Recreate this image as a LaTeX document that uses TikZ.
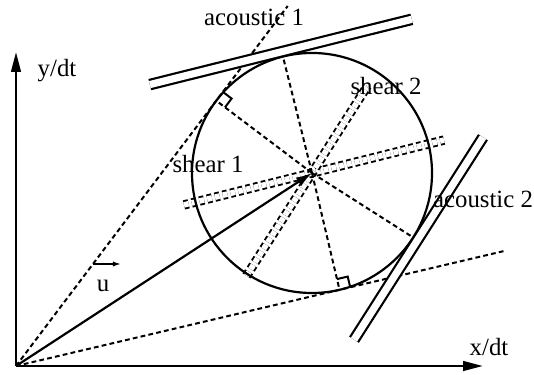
\documentclass[tikz,border=0pt]{standalone}
\usepackage{fontspec}
\setmainfont{Liberation Serif}
\usepackage{tikz}
\usetikzlibrary{arrows.meta,calc}
\tikzset{
  axis/.style={line width=1.3pt, -{Triangle[length=10pt,width=4.8pt]}},
  hint/.style={line width=1pt, dash pattern=on 2.4pt off 1.6pt},
  wave/.style={line width=1.1pt, double, double distance=3.6pt},
  shearwave/.style={line width=0.95pt, dash pattern=on 2.4pt off 1.6pt, double, double distance=2.8pt},
  rightmark/.style={line width=1pt},
  speed/.style={line width=1.1pt, -{Latex[length=8pt,width=5pt]}},
  lbl/.style={font=\fontsize{12.4}{14}\selectfont, inner sep=0pt}
}

\begin{document}
\begin{tikzpicture}[x=0.5pt, y=0.5pt]
  \useasboundingbox (0,0) rectangle (534,374);
  \coordinate (O) at (16,8);
  \coordinate (C) at (312,201);
  % shear lines through the centre
  \coordinate (s1a) at ($(C)+(194:132)$);
  \coordinate (s1b) at ($(C)+(14:136)$);
  \coordinate (s2a) at ($(C)+(237.5:122)$);
  \coordinate (s2b) at ($(C)+(57.5:103)$);
  \draw[shearwave] (s1a) -- (s1b);
  \draw[shearwave] (s2a) -- (s2b);
  \node[draw, circle, line width=1.1pt, minimum size=120pt, inner sep=0pt, outer sep=0pt] (wheel) at (C) {};
  % tangents from the origin
  \coordinate (t1) at (tangent cs:node=wheel,point={(O)},solution=2);
  \coordinate (t2) at (tangent cs:node=wheel,point={(O)},solution=1);
  \coordinate (e1) at ($(O)!1.357!(t1)$);
  \coordinate (e2) at ($(O)!1.516!(t2)$);
  \draw[hint] (O) -- (e1);
  \draw[hint] (O) -- (e2);
  \coordinate (a1) at ($(C)+(104:120)$);
  \coordinate (a2) at ($(C)+(-32.5:120)$);
  \draw[hint] (C) -- (t1);
  \draw[hint] (C) -- (t2);
  \draw[hint] (C) -- (a1);
  \draw[hint] (C) -- (a2);
  % right-angle marks
  \coordinate (m1a) at ($(t1)!5.5pt!(e1)$);
  \coordinate (m1b) at ($(t1)!5.5pt!(C)$);
  \draw[rightmark] (m1a) -- ($(m1a)+(m1b)-(t1)$) -- (m1b);
  \coordinate (m2a) at ($(t2)!5.5pt!(e2)$);
  \coordinate (m2b) at ($(t2)!5.5pt!(C)$);
  \draw[rightmark] (m2a) -- ($(m2a)+(m2b)-(t2)$) -- (m2b);
  % acoustic lines
  \coordinate (p1a) at ($(C)+(104:125)+(194:136)$);
  \coordinate (p1b) at ($(C)+(104:125)+(14:134)$);
  \coordinate (p2a) at ($(C)+(-32.5:125)+(237.5:118)$);
  \coordinate (p2b) at ($(C)+(-32.5:125)+(57.5:122)$);
  \draw[wave] (p1a) -- (p1b);
  \draw[wave] (p2a) -- (p2b);
  \draw[speed] (O) -- (C);
  % axes
  \coordinate (ytip) at (16,322);
  \coordinate (xtip) at (483,8);
  \draw[axis] (O) -- (ytip);
  \draw[axis] (O) -- (xtip);
  % flow vector u
  \coordinate (us) at ($(O)!0.3845!(t1)$);
  \coordinate (ue) at ($(us)+(28,0)$);
  \draw[line width=0.8pt, -{Latex[length=4pt,width=2.6pt]}] (us) -- (ue);
  \node[lbl] (ulabel) at (103,88) {u};
  \node[lbl] (ylabel) at (57,303) {y/dt};
  \node[lbl] (xlabel) at (489,27) {x/dt};
  \node[lbl] (ac1) at (254,357) {acoustic 1};
  \node[lbl] (ac2) at (483,175) {acoustic 2};
  \node[lbl] (sh1) at (208,210) {shear 1};
  \node[lbl] (sh2) at (386,288) {shear 2};
\end{tikzpicture}
\end{document}
